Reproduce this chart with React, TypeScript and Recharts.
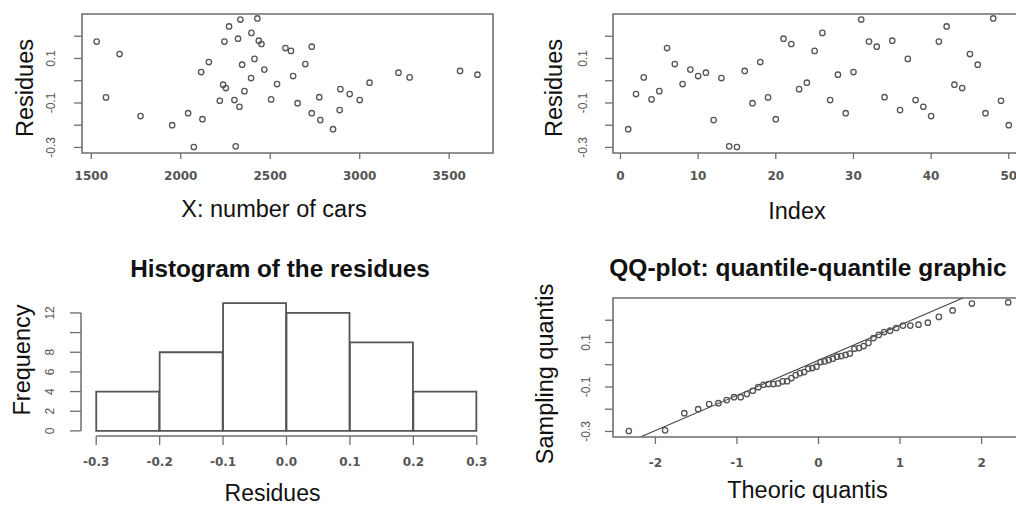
import { ScatterChart, Scatter, BarChart, Bar, XAxis, YAxis, ReferenceArea, ReferenceLine } from 'recharts';

// residuals of the regression, in observation order
const obsIndex = [
  1, 2, 3, 4, 5, 6, 7, 8, 9, 10, 11, 12, 13, 14, 15, 16, 17, 18, 19, 20, 21, 22, 23, 24, 25,
  26, 27, 28, 29, 30, 31, 32, 33, 34, 35, 36, 37, 38, 39, 40, 41, 42, 43, 44, 45, 46, 47, 48, 49, 50,
];
const carCounts = [
  2851, 2944, 3279, 2505, 2356, 2585, 2696, 2538, 2467, 2628, 3217, 2780, 2393, 2307, 2073, 3561, 2653,
  2157, 1582, 2121, 2320, 2451, 2892, 3055, 2616, 2395, 2300, 3658, 2041, 2114, 2333, 1530, 2732, 2774,
  2436, 2888, 2412, 3000, 2328, 1775, 2244, 2270, 2237, 2252, 1658, 2343, 2732, 2428, 2218, 1952,
];
const residues = [
  -0.218, -0.06, 0.015, -0.084, -0.047, 0.147, 0.075, -0.015, 0.05, 0.021, 0.036, -0.177, 0.012, -0.295,
  -0.298, 0.044, -0.101, 0.084, -0.075, -0.173, 0.189, 0.165, -0.038, -0.009, 0.134, 0.215, -0.087, 0.027,
  -0.146, 0.039, 0.275, 0.176, 0.153, -0.074, 0.18, -0.132, 0.098, -0.087, -0.117, -0.159, 0.176, 0.244,
  -0.018, -0.033, 0.12, 0.072, -0.146, 0.28, -0.09, -0.2,
];
// normal quantiles for 50 points (ppoints)
const theoQuantiles = [
  -2.326, -1.881, -1.645, -1.476, -1.341, -1.227, -1.126, -1.036, -0.954, -0.878, -0.806, -0.739, -0.674,
  -0.613, -0.553, -0.496, -0.44, -0.385, -0.332, -0.279, -0.228, -0.176, -0.126, -0.075, -0.025, 0.025,
  0.075, 0.126, 0.176, 0.228, 0.279, 0.332, 0.385, 0.44, 0.496, 0.553, 0.613, 0.674, 0.739, 0.806, 0.878,
  0.954, 1.036, 1.126, 1.227, 1.341, 1.476, 1.645, 1.881, 2.326,
];
const qqLineEnds = [{ x: -2.17, y: -0.323 }, { x: 1.77, y: 0.3 }];

const binMids = [-0.25, -0.15, -0.05, 0.05, 0.15, 0.25];
const binCounts = [4, 8, 13, 12, 9, 4];

const carTicks = [1500, 2000, 2500, 3000, 3500];
const indexTicks = [0, 10, 20, 30, 40, 50];
const resTicks = [-0.3, -0.2, -0.1, 0, 0.1, 0.2];
const resLabels = [-0.3, -0.1, 0.1];
const histTicks = [-0.3, -0.2, -0.1, 0, 0.1, 0.2, 0.3];
const freqTicks = [0, 2, 4, 6, 8, 10, 12];
const freqLabels = [0, 2, 4, 6, 8, 12];
const quantTicks = [-2, -1, 0, 1, 2];

const carPoints = carCounts.map((c, i) => ({ x: c, y: residues[i] }));
const indexPoints = obsIndex.map((n, i) => ({ x: n, y: residues[i] }));
const sortedRes = [...residues].sort((a, b) => a - b);
const qqPoints = theoQuantiles.map((q, i) => ({ x: q, y: sortedRes[i] }));
const histData = binMids.map((m, i) => ({ mid: m, count: binCounts[i] }));

const SANS = '"Liberation Sans", Arial, sans-serif';
const BOX = '#6e6e6e';

const Ring = (props: any) => (
  <circle cx={props.cx} cy={props.cy} r={2.7} fill="none" stroke="#555" strokeWidth={1.3} />
);

const xTick = (cy: number, fmt: (v: number) => string = (v) => String(v)) => (props: any) => (
  <text x={props.x} y={cy} dy="0.36em" textAnchor="middle" fontSize={12} fontWeight="bold" fill="#555"
    fontFamily='"DejaVu Sans", sans-serif'>
    {fmt(props.payload.value)}
  </text>
);

const yTick = (cx: number, shown: number[]) => (props: any) => {
  const v = props.payload.value;
  if (!shown.some((s) => Math.abs(s - v) < 1e-9)) return <g />;
  return (
    <text transform={`translate(${cx},${props.y}) rotate(-90)`} dy="0.36em" textAnchor="middle"
      fontSize={12} fill="#555" fontFamily={SANS}>
      {String(v)}
    </text>
  );
};

const tickStroke = { stroke: BOX, strokeWidth: 1.3 };

export default function App() {
  return (
    <div style={{ position: 'absolute', left: 0, top: 0, width: 1016, height: 506, overflow: 'hidden', background: '#fff' }}>
      {/* residues vs number of cars */}
      <div style={{ position: 'absolute', left: 0, top: 0 }}>
        <ScatterChart width={500} height={240} margin={{ top: 14, right: 7, bottom: 0, left: 0 }}>
          <XAxis type="number" dataKey="x" domain={[1448, 3745]} allowDataOverflow ticks={carTicks} interval={0}
            height={87} axisLine={false} tickSize={6} tickLine={tickStroke} tick={xTick(176)} />
          <YAxis type="number" dataKey="y" domain={[-0.325, 0.3]} allowDataOverflow ticks={resTicks} interval={0}
            width={82} axisLine={false} tickSize={8} tickLine={tickStroke} tick={yTick(51, resLabels)} />
          <ReferenceArea x1={1448} x2={3745} y1={-0.325} y2={0.3} fill="none" stroke={BOX} strokeWidth={1.6} />
          <Scatter data={carPoints} shape={Ring} isAnimationActive={false} />
        </ScatterChart>
      </div>

      {/* residues vs index */}
      <div style={{ position: 'absolute', left: 500, top: 0 }}>
        <ScatterChart width={530} height={240} margin={{ top: 14, right: 6, bottom: 0, left: 0 }}>
          <XAxis type="number" dataKey="x" domain={[-0.96, 51.96]} allowDataOverflow ticks={indexTicks} interval={0}
            height={87} axisLine={false} tickSize={6} tickLine={tickStroke} tick={xTick(176)} />
          <YAxis type="number" dataKey="y" domain={[-0.325, 0.3]} allowDataOverflow ticks={resTicks} interval={0}
            width={113} axisLine={false} tickSize={8} tickLine={tickStroke} tick={yTick(83, resLabels)} />
          <ReferenceArea x1={-0.96} x2={51.96} y1={-0.325} y2={0.3} fill="none" stroke={BOX} strokeWidth={1.6} />
          <Scatter data={indexPoints} shape={Ring} isAnimationActive={false} />
        </ScatterChart>
      </div>

      {/* histogram */}
      <div style={{ position: 'absolute', left: 0, top: 0 }}>
        <BarChart width={500} height={506} data={histData} margin={{ top: 298, right: 8, bottom: 0, left: 0 }}
          barCategoryGap={0} barGap={0}>
          <XAxis type="number" dataKey="mid" domain={[-0.324, 0.324]} allowDataOverflow ticks={histTicks} interval={0}
            height={70} axisLine={false} tickSize={9} tickLine={tickStroke} tick={xTick(462, (v) => v.toFixed(1))} />
          <YAxis type="number" domain={[-0.52, 13.52]} allowDataOverflow ticks={freqTicks} interval={0}
            width={81} axisLine={false} tickSize={11} tickLine={tickStroke} tick={yTick(50, freqLabels)} />
          <Bar dataKey="count" fill="#fff" stroke="#555" strokeWidth={1.8} isAnimationActive={false} />
          <ReferenceLine segment={[{ x: -0.324, y: 0 }, { x: -0.324, y: 12 }]} stroke={BOX} strokeWidth={1.5} />
          <ReferenceLine segment={[{ x: -0.3, y: -0.52 }, { x: 0.3, y: -0.52 }]} stroke={BOX} strokeWidth={1.5} />
        </BarChart>
      </div>

      {/* QQ plot */}
      <div style={{ position: 'absolute', left: 500, top: 0 }}>
        <ScatterChart width={530} height={506} margin={{ top: 298, right: 6, bottom: 0, left: 0 }}>
          <XAxis type="number" dataKey="x" domain={[-2.52, 2.52]} allowDataOverflow ticks={quantTicks} interval={0}
            height={69} axisLine={false} tickSize={7} tickLine={tickStroke} tick={xTick(463)} />
          <YAxis type="number" dataKey="y" domain={[-0.325, 0.3]} allowDataOverflow ticks={resTicks} interval={0}
            width={113} axisLine={false} tickSize={8} tickLine={tickStroke} tick={yTick(86, resLabels)} />
          <ReferenceArea x1={-2.52} x2={2.52} y1={-0.325} y2={0.3} fill="none" stroke={BOX} strokeWidth={1.6} />
          <ReferenceLine segment={qqLineEnds} stroke="#444" strokeWidth={1.1} />
          <Scatter data={qqPoints} shape={Ring} isAnimationActive={false} />
        </ScatterChart>
      </div>

      {/* titles and axis labels */}
      <svg width={1016} height={506} style={{ position: 'absolute', left: 0, top: 0, pointerEvents: 'none' }}
        fontFamily={SANS} fill="#111">
        <text transform="translate(33,88) rotate(-90)" textAnchor="middle" fontSize={23.5}>Residues</text>
        <text x={274} y={217} textAnchor="middle" fontSize={23.5}>X: number of cars</text>
        <text transform="translate(562,88) rotate(-90)" textAnchor="middle" fontSize={23.5}>Residues</text>
        <text x={797} y={219} textAnchor="middle" fontSize={23.5}>Index</text>
        <text x={280} y={277} textAnchor="middle" fontSize={24.3} fontWeight="bold">Histogram of the residues</text>
        <text transform="translate(29.5,360) rotate(-90)" textAnchor="middle" fontSize={23.5}>Frequency</text>
        <text x={272.5} y={501} textAnchor="middle" fontSize={23}>Residues</text>
        <text x={808} y={276} textAnchor="middle" fontSize={24.5} fontWeight="bold">QQ-plot: quantile-quantile graphic</text>
        <text transform="translate(553,374) rotate(-90)" textAnchor="middle" fontSize={23.5}>Sampling quantis</text>
        <text x={807.5} y={498} textAnchor="middle" fontSize={23.5}>Theoric quantis</text>
      </svg>
    </div>
  );
}
